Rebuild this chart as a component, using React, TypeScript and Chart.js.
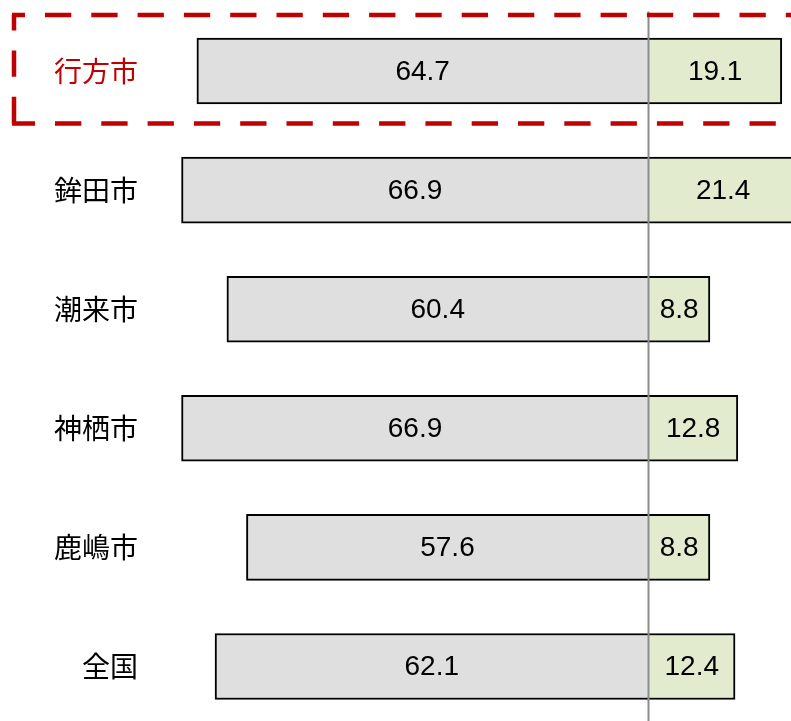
import React, { useEffect, useRef } from "react";
import { Chart, registerables } from "chart.js";

Chart.register(...registerables);

const categories = ["行方市", "鉾田市", "潮来市", "神栖市", "鹿嶋市", "全国"];
const leftValues = [64.7, 66.9, 60.4, 66.9, 57.6, 62.1];
const rightValues = [19.1, 21.4, 8.8, 12.8, 8.8, 12.4];
const highlightIndex = 0;

const VIEW_W = 791;
const W = 830;
const H = 726;
const PX_PER_UNIT = 6.98;
const ZERO_PX = 648.5;

export default function App() {
  const ref = useRef<HTMLCanvasElement | null>(null);

  useEffect(() => {
    document.body.style.margin = "0";
    const canvas = ref.current;
    if (!canvas) return;

    const overlay = {
      id: "overlay",
      afterDatasetsDraw(chart: any) {
        const ctx = chart.ctx;
        const xs = chart.scales.x;
        const ys = chart.scales.y;
        const area = chart.chartArea;
        ctx.save();
        // center line
        const x0 = xs.getPixelForValue(0);
        ctx.strokeStyle = "#8c8c8c";
        ctx.lineWidth = 2;
        ctx.beginPath();
        ctx.moveTo(x0, area.top);
        ctx.lineTo(x0, chart.height);
        ctx.stroke();

        // value labels
        ctx.font = '28px "Liberation Sans", Arial, sans-serif';
        ctx.fillStyle = "#000";
        ctx.textAlign = "center";
        ctx.textBaseline = "middle";
        categories.forEach((_, i) => {
          const y = ys.getPixelForValue(i);
          const lx = xs.getPixelForValue(-leftValues[i] / 2);
          const rx = xs.getPixelForValue(rightValues[i] / 2);
          ctx.fillText(leftValues[i].toFixed(1), lx, y + 1);
          ctx.fillText(rightValues[i].toFixed(1), rx, y + 1);
        });

        // category labels
        ctx.font = '28px "Noto Sans CJK JP", sans-serif';
        ctx.textAlign = "right";
        categories.forEach((c, i) => {
          const y = ys.getPixelForValue(i);
          ctx.fillStyle = i === highlightIndex ? "#c00000" : "#000";
          ctx.fillText(c, 138, y);
        });

        // dashed highlight box
        const yc = ys.getPixelForValue(highlightIndex);
        const top = yc - 56;
        const bottom = yc + 52.5;
        ctx.strokeStyle = "#c00000";
        ctx.lineWidth = 4.5;
        ctx.lineCap = "butt";
        ctx.setLineDash([26.3, 20]);
        ctx.lineDashOffset = 13.3;
        ctx.beginPath();
        ctx.moveTo(12, top);
        ctx.lineTo(W + 20, top);
        ctx.stroke();
        ctx.lineDashOffset = 10.8;
        ctx.beginPath();
        ctx.moveTo(14, top);
        ctx.lineTo(14, bottom + 2);
        ctx.stroke();
        ctx.lineDashOffset = 3.3;
        ctx.beginPath();
        ctx.moveTo(12, bottom);
        ctx.lineTo(W + 20, bottom);
        ctx.stroke();
        ctx.restore();
      },
    };

    const rightBorder = (c: any) => {
      const v = rightValues[c.dataIndex];
      const xs = c.chart.scales && c.chart.scales.x;
      if (xs && xs.getPixelForValue(v) > VIEW_W) {
        return { top: 2, bottom: 2, left: 0, right: 0 };
      }
      return 2;
    };

    const chart = new Chart(canvas, {
      type: "bar",
      data: {
        labels: categories,
        datasets: [
          {
            data: leftValues.map((v) => -v),
            backgroundColor: "#dfdfdf",
            borderColor: "#000",
            borderWidth: 2,
            borderSkipped: "start",
            barThickness: 66,
          },
          {
            data: rightValues,
            backgroundColor: "#e3ebcf",
            borderColor: "#000",
            borderWidth: rightBorder,
            borderSkipped: "start",
            barThickness: 66,
          },
        ],
      },
      options: {
        indexAxis: "y",
        responsive: false,
        animation: false,
        layout: { padding: { top: 11.5, bottom: 0, left: 0, right: 0 } },
        plugins: {
          legend: { display: false },
          tooltip: { enabled: false },
        },
        scales: {
          x: {
            stacked: true,
            display: false,
            min: -ZERO_PX / PX_PER_UNIT,
            max: (W - ZERO_PX) / PX_PER_UNIT,
          },
          y: {
            stacked: true,
            display: false,
          },
        },
      },
      plugins: [overlay],
    });

    return () => chart.destroy();
  }, []);

  return (
    <div
      style={{
        position: "fixed",
        left: 0,
        top: 0,
        width: VIEW_W,
        height: 721,
        overflow: "hidden",
        background: "#fff",
      }}
    >
      <canvas ref={ref} width={W} height={H} style={{ display: "block" }} />
    </div>
  );
}
